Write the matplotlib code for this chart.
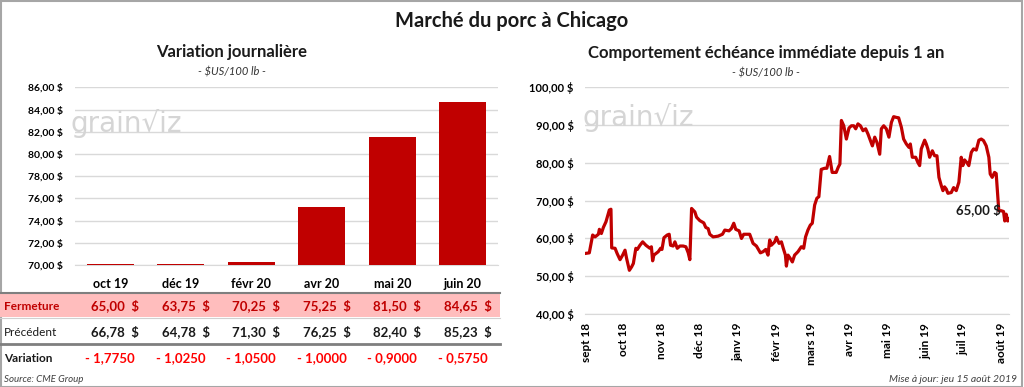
import numpy as np
import pandas as pd
import matplotlib
matplotlib.use('Agg')
import matplotlib.pyplot as plt
from matplotlib.transforms import blended_transform_factory
from matplotlib.lines import Line2D
from matplotlib.patches import Rectangle

plt.rcParams['font.family'] = ['Lato', 'DejaVu Sans']

# --- données : variation journalière (contrats) ---
contrats = ['oct 19', 'déc 19', 'févr 20', 'avr 20', 'mai 20', 'juin 20']
fermeture = [65.00, 63.75, 70.25, 75.25, 81.50, 84.65]
precedent = [66.78, 64.78, 71.30, 76.25, 82.40, 85.23]
variation = [-1.7750, -1.0250, -1.0500, -1.0000, -0.9000, -0.5750]

# --- données : échéance immédiate depuis 1 an (jours depuis le début, $US/100 lb) ---
debut = pd.Timestamp('2018-09-09')
jours = [-1.6, 2.6, 5.3, 7.2, 9.9, 10.7, 12.3, 13.9, 16, 18.7, 20, 20.6, 23.3, 25, 27.3, 29.4,
         31.3, 32.6, 34.8, 36.6, 38, 40, 41.2, 43.3, 45.5, 48.1, 51.3, 52.5, 53.5, 54.5, 58,
         59.9, 61, 62.6, 65.2, 66.8, 67.9, 70, 71.4, 73.3, 75.4, 78, 80.2, 82.1, 83.4, 84.8,
         87.4, 88.8, 91.4, 94.6, 96.2, 98.1, 99.4, 102.1, 106.1, 109.6, 111.5, 114.9, 116.8,
         118.7, 120.3, 123, 124.9, 126.7, 131.5, 134.2, 136.9, 140.1, 142.2, 144.4, 146.2,
         147.6, 148.9, 151.6, 153, 155.1, 157, 158.3, 160.2, 161, 162.3, 164.2, 165.8, 167.6,
         170.3, 173, 174.9, 176.4, 178.3, 180.2, 181.8, 183.7, 185.5, 187.1, 189, 191.7,
         193.5, 195.7, 197.8, 201, 202.7, 204, 205.2, 207.1, 209.2, 211.3, 213.2, 215.1,
         216.7, 218.5, 220.5, 222.6, 224.7, 226.6, 228.5, 230.1, 232, 233.8, 236, 237.3,
         239.2, 241.3, 243.4, 245.4, 247.2, 249.4, 251.2, 253.4, 255.2, 257.4, 259.5, 260.6,
         262.2, 264.9, 266.7, 268.1, 269.4, 272.1, 273.4, 274.7, 276.1, 278.3, 280.1, 282,
         283.6, 285.5, 286.8, 288.1, 289.5, 290.8, 293.5, 295.4, 297.5, 299.6, 301.5, 302.8,
         304.2, 306, 307.6, 309.6, 311.4, 313.6, 315.7, 317.6, 319.4, 321.6, 323.7, 324.8,
         326.4, 328.3, 329.6, 331.7, 333.6, 335.5, 336.5, 337.6, 338.9, 339.7]
prix = [56.0, 56.2, 60.9, 60.4, 61.1, 62.4, 61.3, 62.9, 64.4, 67.5, 67.7, 57.5, 57.4, 56.0,
        54.4, 55.6, 56.9, 54.7, 51.6, 52.5, 53.4, 57.4, 57.1, 58.2, 59.1, 58.2, 57.4, 57.8,
        54.1, 55.6, 56.5, 57.4, 57.1, 60.2, 60.9, 61.1, 58.2, 58.0, 59.1, 57.4, 58.0, 58.0,
        57.8, 56.2, 54.4, 67.9, 67.0, 65.6, 64.7, 64.1, 62.9, 62.6, 61.1, 60.4, 60.6, 61.1,
        62.2, 62.0, 62.6, 64.0, 62.4, 62.0, 60.0, 61.1, 61.1, 58.7, 58.0, 56.2, 56.5, 57.1,
        55.6, 59.6, 58.2, 59.1, 60.3, 58.7, 59.1, 57.6, 55.6, 52.7, 55.6, 54.7, 53.8, 55.6,
        56.5, 57.8, 57.4, 60.4, 62.2, 63.5, 64.0, 68.8, 70.6, 71.0, 78.2, 78.5, 78.5, 81.6,
        77.4, 77.4, 78.8, 79.6, 91.1, 89.7, 86.2, 89.1, 89.7, 89.7, 88.9, 90.2, 89.7, 88.4,
        88.9, 87.5, 85.8, 84.4, 86.7, 85.3, 82.2, 88.9, 89.7, 88.9, 86.7, 90.6, 92.1, 91.9,
        91.8, 89.3, 86.2, 84.9, 84.0, 84.9, 81.4, 81.4, 80.0, 79.2, 83.6, 85.9, 84.9, 83.6,
        81.4, 83.1, 81.8, 81.8, 76.1, 73.9, 72.6, 73.6, 73.0, 71.9, 72.1, 73.4, 72.6, 74.8,
        81.4, 79.2, 80.7, 80.0, 79.2, 82.7, 83.6, 83.3, 85.9, 86.2, 85.8, 84.4, 81.4, 77.0,
        76.1, 77.4, 77.1, 67.3, 67.3, 67.1, 64.6, 66.4, 64.6, 65.0]
mois = ['sept 18', 'oct 18', 'nov 18', 'déc 18', 'janv 19', 'févr 19', 'mars 19',
        'avr 19', 'mai 19', 'juin 19', 'juil 19', 'août 19']

rouge = '#c00000'
W, H = 1024, 387

def fx(px):
    return px / W

def fy(py):
    return 1 - py / H

fig = plt.figure(figsize=(W / 100, H / 100), dpi=100)
fig.patch.set_facecolor('white')
fig.add_artist(Rectangle((0.0005, 0.001), 0.998, 0.997, transform=fig.transFigure,
                         fill=False, edgecolor='#a6a6a6', lw=1.5))

# titres
fig.text(0.5, fy(21), 'Marché du porc à Chicago', ha='center', va='center',
         fontsize=14.5, fontweight='bold', color='#1a1a1a')
fig.text(fx(232), fy(52), 'Variation journalière', ha='center', va='center',
         fontsize=12, fontweight='bold', color='#1a1a1a')
fig.text(fx(232), fy(72), '- $US/100 lb -', ha='center', va='center',
         fontsize=8, style='italic', color='#333333')
fig.text(fx(766), fy(53), 'Comportement échéance immédiate depuis 1 an', ha='center',
         va='center', fontsize=12, fontweight='bold', color='#1a1a1a')
fig.text(fx(766), fy(73), '- $US/100 lb -', ha='center', va='center',
         fontsize=8, style='italic', color='#333333')

# ---------- graphique à barres ----------
ymin = 70
ax1 = fig.add_axes([fx(75), fy(265), fx(498 - 75), (265 - 87.3) / H])
x = np.arange(len(contrats))
hauteurs = np.maximum(fermeture, ymin + 0.08) - ymin
ax1.bar(x, hauteurs, bottom=ymin, width=0.66, color=rouge, zorder=3)
ax1.set_ylim(ymin, 86)
ax1.set_xlim(-0.5, len(contrats) - 0.5)
ax1.set_yticks(np.arange(70, 87, 2))
ax1.set_yticklabels([f'{v:.2f} $'.replace('.', ',') for v in np.arange(70, 87, 2)],
                    fontsize=7.5, fontweight='bold')
ax1.set_xticks(x)
ax1.set_xticklabels(contrats, fontsize=9, fontweight='bold')
ax1.tick_params(length=0, pad=9)
ax1.tick_params(axis='x', pad=9)
ax1.grid(axis='y', color='#d9d9d9', lw=1, zorder=0)
for s in ['top', 'right', 'left']:
    ax1.spines[s].set_visible(False)
ax1.spines['bottom'].set_color('#d9d9d9')

# tableau sous les barres
tr = blended_transform_factory(ax1.transData, fig.transFigure)
fig.add_artist(Rectangle((0, fy(317)), fx(500), (317 - 293) / H, transform=fig.transFigure,
                         facecolor='#ffbdbd', edgecolor='none'))
for yl, c, lw in [(293, '#7f7f7f', 1.5), (318, '#d0d0d0', 0.8), (343.5, '#7f7f7f', 2)]:
    fig.add_artist(Line2D([0, fx(500)], [fy(yl), fy(yl)], transform=fig.transFigure,
                          color=c, lw=lw))
fig.text(fx(4), fy(306), 'Fermeture', ha='left', va='center', fontsize=8.5,
         fontweight='bold', color=rouge)
fig.text(fx(4), fy(332), 'Précédent', ha='left', va='center', fontsize=8.5, color='#1a1a1a')
fig.text(fx(4), fy(358), 'Variation', ha='left', va='center', fontsize=8.5,
         fontweight='bold', color='#1a1a1a')
for i in range(len(contrats)):
    fig.text(i + 0.41, fy(306), f'{fermeture[i]:.2f}  $'.replace('.', ','), transform=tr,
             ha='right', va='center', fontsize=9.5, fontweight='bold', color=rouge)
    fig.text(i + 0.41, fy(332), f'{precedent[i]:.2f}  $'.replace('.', ','), transform=tr,
             ha='right', va='center', fontsize=9.5, fontweight='bold', color='#1a1a1a')
    fig.text(i, fy(358), f'- {abs(variation[i]):.4f}'.replace('.', ','), transform=tr,
             ha='center', va='center', fontsize=9.5, fontweight='bold', color='#ff0000')
fig.text(fx(4), fy(379), 'Source: CME Group', ha='left', va='center', fontsize=7,
         style='italic', color='#404040')

# ---------- graphique linéaire ----------
ax2 = fig.add_axes([fx(584.7), fy(314.3), fx(1009 - 584.7), (314.3 - 86.7) / H])
dates = debut + pd.to_timedelta(jours, unit='D')
ax2.plot(dates, prix, color=rouge, lw=2.3, zorder=3)
ax2.set_ylim(40, 100)
ax2.set_xlim(debut - pd.Timedelta(days=1.1), dates[-1] + pd.Timedelta(days=0.2))
ax2.set_yticks(np.arange(40, 101, 10))
ax2.set_yticklabels([f'{v:.2f} $'.replace('.', ',') for v in np.arange(40, 101, 10)],
                    fontsize=8, fontweight='bold')
ticks = pd.date_range(debut, periods=len(mois), freq=pd.DateOffset(months=1))
ax2.set_xticks(ticks)
ax2.set_xticklabels(mois, rotation=90, fontsize=8.5, fontweight='bold')
ax2.tick_params(length=0, pad=8)
ax2.tick_params(axis='x', pad=6)
ax2.grid(axis='y', color='#d9d9d9', lw=1, zorder=0)
for s in ['top', 'right', 'left']:
    ax2.spines[s].set_visible(False)
ax2.spines['bottom'].set_color('#d9d9d9')
ax2.annotate(f'{prix[-1]:.2f} $'.replace('.', ','), (dates[-1], prix[-1]),
             xytext=(-6, 7), textcoords='offset points', ha='right', va='center',
             fontsize=9.5, fontweight='bold', color='#1a1a1a')

# filigranes
for xp, yp in [(70, 124), (582, 117)]:
    fig.text(fx(xp), fy(yp), 'grain\u221aiz', ha='left', va='center', fontsize=20,
             color='#d5d5d5', family='DejaVu Sans', zorder=1)

fig.text(fx(1017), fy(379), 'Mise à jour: jeu 15 août 2019', ha='right', va='center',
         fontsize=7.5, style='italic', color='#404040')

fig.savefig('out.png', dpi=100)
